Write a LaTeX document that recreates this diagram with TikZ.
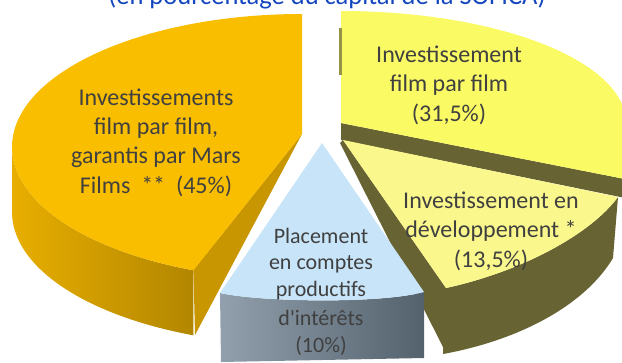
\documentclass[tikz,border=0pt]{standalone}
\usepackage{fontspec}
\setmainfont{Carlito}
\definecolor{orangeTop}{RGB}{249,190,0}
\definecolor{orangeSideL}{RGB}{232,174,0}
\definecolor{orangeSideR}{RGB}{178,134,0}
\definecolor{orangeCut}{RGB}{200,150,0}
\definecolor{yellowTop}{RGB}{250,250,100}
\definecolor{oliveFace}{RGB}{104,99,50}
\definecolor{oliveLight}{RGB}{150,146,70}
\definecolor{lightYellow}{RGB}{250,248,140}
\definecolor{blueTop}{RGB}{200,228,248}
\definecolor{grayL}{RGB}{145,160,172}
\definecolor{grayR}{RGB}{84,98,110}
\definecolor{textGray}{RGB}{64,64,64}
\definecolor{titleBlue}{RGB}{20,70,190}
\begin{document}
\begin{tikzpicture}[x=1pt,y=-1pt,
  lbl/.style={text=textGray,align=center,inner sep=0pt,anchor=base,
    font=\fontsize{24}{29.3}\selectfont},
  lblsmall/.style={lbl,font=\fontsize{22}{26.5}\selectfont}]
\useasboundingbox (0,0) rectangle (622,362);
\clip (0,0) rectangle (622,362);
% title (cut at the top)
\node[text=titleBlue,inner sep=0pt,anchor=base,font=\fontsize{26.5}{30}\selectfont] (title) at (327,4) {(en pourcentage du capital de la SOFICA)};
% ---- orange slice (45%)
\shade[left color=orangeSideL,right color=orangeSideR]
  (12,147) arc[start angle=180,end angle=248,x radius=290pt,y radius=133pt]
  -- ++(0,65) arc[start angle=248,end angle=180,x radius=290pt,y radius=133pt] -- cycle;
\fill[orangeCut] (302,134) -- (193.4,270) -- (195,335) -- cycle;
\fill[orangeTop] (302,14) arc[start angle=90,end angle=248,x radius=290pt,y radius=133pt]
  -- (302,134) -- cycle;
% ---- yellow slice (31,5%)
\fill[oliveFace] (341,123) -- (640,182) -- (640,201) -- (341,140) -- cycle;
\fill[yellowTop] (341,123) -- (341,11) arc[start angle=90,end angle=-10,x radius=285pt,y radius=112pt]
  -- (640,182) -- cycle;
\fill[oliveLight] (339,28) rectangle (342,75);
% ---- light yellow slice (13,5%)
\fill[oliveFace] (446,288) .. controls (520,272) and (590,235) .. (618,197)
  -- (613,258) .. controls (585,305) and (520,340) .. (443,354) -- cycle;
\fill[oliveFace] (343,140) -- (446,288) -- (446,353) -- (340,143) -- cycle;
\fill[lightYellow] (343,140) -- (618,197) .. controls (590,235) and (520,272) .. (446,288) -- cycle;
% ---- blue slice (10%)
\shade[left color=grayL,right color=grayR]
  (220,293) -- (221,362) -- (424,358) -- (424,292)
  .. controls (380,304) and (260,302) .. (220,293) -- cycle;
\fill[blueTop] (322,143) -- (424,292) .. controls (380,304) and (260,302) .. (220,293) -- cycle;
% ---- labels (anchor = baseline of the last line)
\node[lbl] (lo) at (156,193) {Investissements\\film par film,\\garantis par Mars\\Films\ \ **\ \ (45\%)};
\node[lbl] (ly) at (449,121) {Investissement\\film par film\\(31,5\%)};
\node[lbl] (lly) at (491,267) {Investissement en\\développement *\\(13,5\%)};
\node[lblsmall] (lb) at (321,352) {Placement\\en comptes\\productifs\\[3pt]d\textquotesingle intérêts\\(10\%)};
\end{tikzpicture}
\end{document}
